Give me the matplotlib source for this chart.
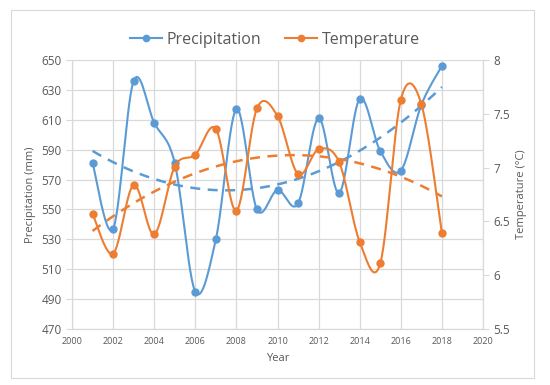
import numpy as np
import matplotlib.pyplot as plt
from matplotlib.lines import Line2D
from matplotlib.patches import Rectangle

years = np.arange(2001, 2019)
precipitation = [581, 537, 636, 608, 581, 495, 530, 617, 550, 563,
                 554, 611, 561, 624, 589, 576, 620, 646]
temperature = [6.57, 6.20, 6.84, 6.38, 7.01, 7.12, 7.36, 6.60, 7.55, 7.48,
               6.94, 7.17, 7.05, 6.31, 6.11, 7.63, 7.59, 6.39]

blue = '#5B9BD5'
orange = '#ED7D31'
grey_txt = '#595959'
grid_col = '#D9D9D9'

plt.rcParams['font.family'] = ['Open Sans', 'DejaVu Sans']


##Excel-like smoothed line (bezier through the points)
def smooth(x, y, n=30):
   x = np.asarray(x, float)
   y = np.asarray(y, float)
   xs, ys = [], []
   for i in range(len(x) - 1):
      i0 = max(i - 1, 0)
      i3 = min(i + 2, len(x) - 1)
      p0 = np.array([x[i], y[i]])
      p3 = np.array([x[i + 1], y[i + 1]])
      c1 = p0 + (np.array([x[i + 1], y[i + 1]]) - np.array([x[i0], y[i0]])) / 6
      c2 = p3 - (np.array([x[i3], y[i3]]) - np.array([x[i], y[i]])) / 6
      t = np.linspace(0, 1, n)[:, None]
      pts = ((1 - t) ** 3) * p0 + 3 * ((1 - t) ** 2) * t * c1 + 3 * (1 - t) * t ** 2 * c2 + t ** 3 * p3
      xs.extend(pts[:, 0])
      ys.extend(pts[:, 1])
   return xs, ys


fig = plt.figure(figsize=(5.5, 3.85), dpi=100)
fig.patches.append(Rectangle((11 / 550, 7 / 385), 523 / 550, 368 / 385, transform=fig.transFigure,
                             fill=False, edgecolor=grid_col, linewidth=0.8))
ax = fig.add_axes([72 / 550, 56 / 385, 411 / 550, 269 / 385])
ax2 = ax.twinx()

ax.set_xlim(2000, 2020)
ax.set_ylim(470, 650)
ax2.set_ylim(5.5, 8)
ax.set_xticks(np.arange(2000, 2021, 2))
ax.set_yticks(np.arange(470, 651, 20))
ax2.set_yticks(np.arange(5.5, 8.01, 0.5))
ax2.set_yticklabels(['5.5', '6', '6.5', '7', '7.5', '8'])
ax.grid(True, color=grid_col, linewidth=0.9)
ax.set_axisbelow(True)

for a in (ax, ax2):
   for s in a.spines.values():
      s.set_color(grid_col)
   a.spines['top'].set_visible(False)
ax.tick_params(axis='x', length=0, labelsize=6.5, labelcolor=grey_txt, pad=6)
ax.tick_params(axis='y', length=4, color=grid_col, labelsize=8.5, labelcolor=grey_txt)
ax2.tick_params(axis='y', length=4, color=grid_col, labelsize=8.5, labelcolor=grey_txt)

# smoothed series
sx, sy = smooth(years, precipitation)
ax.plot(sx, sy, color=blue, linewidth=1.5, zorder=3)
ax.plot(years, precipitation, 'o', color=blue, markersize=5, zorder=3)
tx, ty = smooth(years, temperature)
ax2.plot(tx, ty, color=orange, linewidth=1.5, zorder=3)
ax2.plot(years, temperature, 'o', color=orange, markersize=5, zorder=3)

# polynomial trendlines
xt = np.linspace(2001, 2018, 100)
pp = np.polyfit(years - 2000, precipitation, 2)
ax.plot(xt, np.polyval(pp, xt - 2000), color=blue, linewidth=1.8, dashes=(4, 3))
pt = np.polyfit(years - 2000, temperature, 2)
ax2.plot(xt, np.polyval(pt, xt - 2000), color=orange, linewidth=1.8, dashes=(4, 3))

ax.set_xlabel('Year', fontsize=8, color=grey_txt, labelpad=5)
ax.set_ylabel('Precipitation (mm)', fontsize=8, color=grey_txt, labelpad=4)
ax2.set_ylabel('Temperature (°C)', fontsize=8, color=grey_txt, labelpad=4)

handles = [Line2D([], [], color=blue, marker='o', markersize=4.5, linewidth=1.5),
           Line2D([], [], color=orange, marker='o', markersize=4.5, linewidth=1.5)]
fig.legend(handles, ['Precipitation', 'Temperature'], loc='center', bbox_to_anchor=(0.5, 1 - 40 / 385),
           ncol=2, frameon=False, fontsize=11.5, handlelength=2.0, columnspacing=1.5, handletextpad=0.3,
           labelcolor=grey_txt)

fig.savefig('out.png', dpi=100)
